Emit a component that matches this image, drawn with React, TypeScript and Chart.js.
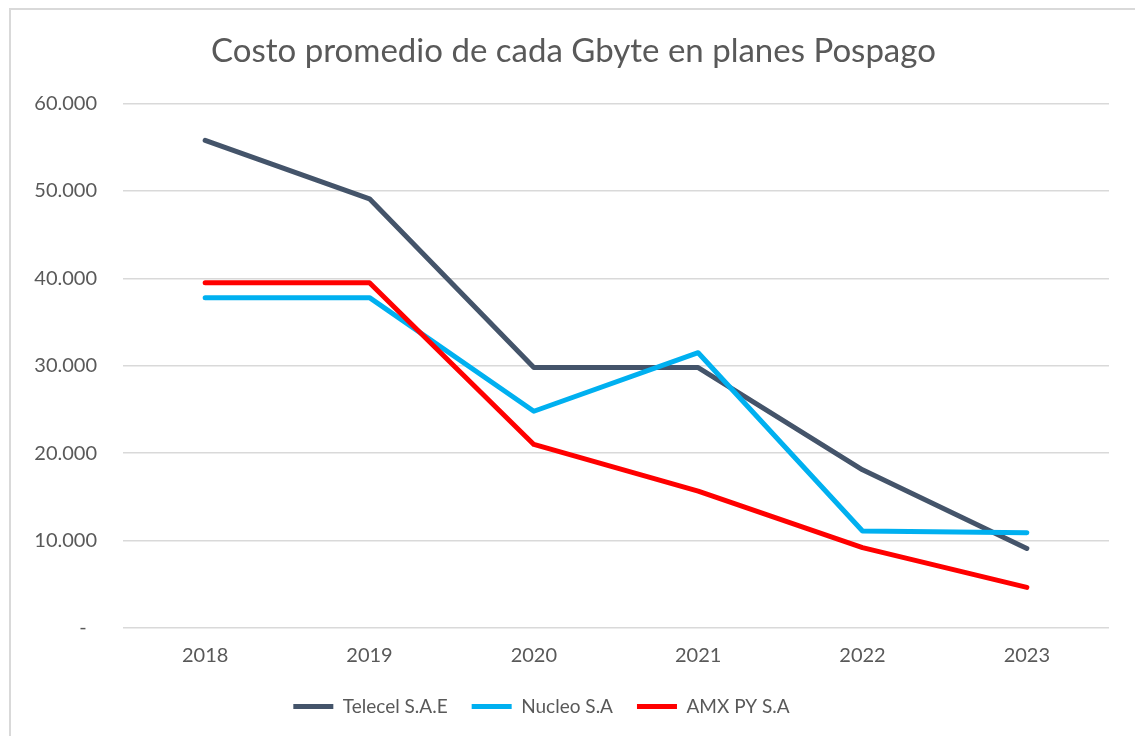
import React, { useEffect, useRef } from "react";
import { Chart, registerables } from "chart.js";

Chart.register(...registerables);

const TITLE = "Costo promedio de cada Gbyte en planes Pospago";
const YEARS = ["2018", "2019", "2020", "2021", "2022", "2023"];
const TELECEL = [55800, 49100, 29800, 29800, 18100, 9100];
const NUCLEO = [37800, 37800, 24800, 31500, 11100, 10900];
const AMX = [39500, 39500, 21000, 15650, 9200, 4650];
const SERIES_NAMES = ["Telecel S.A.E", "Nucleo S.A", "AMX PY S.A"];
const SERIES_COLORS = ["#44546A", "#00B0F0", "#FF0000"];
const Y_MIN = 0;
const Y_MAX = 60000;
const Y_STEP = 10000;

const FONT = "Lato, 'Open Sans', sans-serif";
const TEXT = "#595959";

function fmt(v: number): string {
  if (v === 0) return "-  ";
  return String(Math.round(v)).replace(/\B(?=(\d{3})+(?!\d))/g, ".");
}

// shift title / legend boxes horizontally after layout
const shiftBoxes = {
  id: "shiftBoxes",
  afterLayout(chart: any) {
    const t = chart.titleBlock;
    if (t) {
      t.left += 14;
      t.right += 14;
    }
    const l = chart.legend;
    if (l) {
      l.left -= 18;
      l.right -= 18;
    }
  },
};

export default function App() {
  const ref = useRef<HTMLCanvasElement | null>(null);

  useEffect(() => {
    document.body.style.margin = "0";
    document.body.style.overflow = "hidden";
    const values = [TELECEL, NUCLEO, AMX];
    const chart = new Chart(ref.current!, {
      type: "line",
      data: {
        labels: YEARS,
        datasets: values.map((d, i) => ({
          label: SERIES_NAMES[i],
          data: d,
          borderColor: SERIES_COLORS[i],
          backgroundColor: SERIES_COLORS[i],
          borderWidth: 5,
          borderCapStyle: "round",
          borderJoinStyle: "round",
          pointRadius: 0,
          pointHoverRadius: 0,
          tension: 0,
          fill: false,
          order: 2 - i,
        })),
      },
      plugins: [shiftBoxes],
      options: {
        animation: false,
        responsive: false,
        maintainAspectRatio: false,
        layout: { padding: { left: 10, right: 26, top: 0, bottom: 10 } },
        plugins: {
          tooltip: { enabled: false },
          title: {
            display: true,
            text: TITLE,
            color: TEXT,
            font: { family: FONT, size: 33, weight: "normal" },
            padding: { top: 32, bottom: 32 },
          },
          legend: {
            position: "bottom",
            labels: {
              color: TEXT,
              font: { family: FONT, size: 19 },
              usePointStyle: true,
              pointStyle: "line",
              pointStyleWidth: 40,
              boxHeight: 5,
              padding: 24,
              sort: (a: any, b: any) => a.datasetIndex - b.datasetIndex,
            },
          },
        },
        scales: {
          x: {
            offset: true,
            grid: { display: false, drawTicks: false, offset: true },
            border: { display: false },
            ticks: { color: TEXT, font: { family: FONT, size: 20 }, padding: 16 },
            afterFit: (s: any) => {
              s.height = 45;
            },
          },
          y: {
            min: Y_MIN,
            max: Y_MAX,
            grid: { color: "#d9d9d9", lineWidth: 1.5, drawTicks: false },
            border: { display: false },
            ticks: {
              stepSize: Y_STEP,
              color: TEXT,
              font: { family: FONT, size: 20 },
              padding: 26,
              callback: (v: any) => fmt(Number(v)),
            },
            afterFit: (s: any) => {
              s.width = 113;
            },
          },
        },
      },
    });
    return () => chart.destroy();
  }, []);

  return (
    <div style={{ position: "relative", width: 1135, height: 736, overflow: "hidden", background: "#fff" }}>
      <canvas ref={ref} width={1135} height={736} style={{ position: "absolute", left: 0, top: 0 }} />
      <div
        style={{
          position: "absolute",
          left: 9,
          top: 8,
          width: 1140,
          height: 740,
          border: "2px solid #d9d9d9",
          boxSizing: "border-box",
          pointerEvents: "none",
        }}
      />
    </div>
  );
}
